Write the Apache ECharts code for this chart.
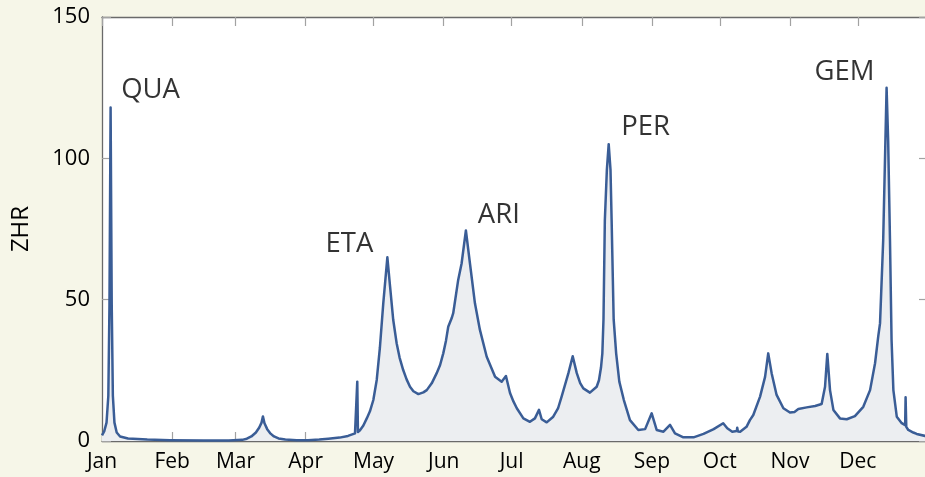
<!DOCTYPE html>
<html>
<head>
<meta charset="utf-8">
<script src="https://cdn.jsdelivr.net/npm/echarts@6/dist/echarts.min.js"></script>
<style>
  html, body { margin: 0; padding: 0; background: #f6f6e8; }
  #chart { width: 925px; height: 477px; }
</style>
</head>
<body>
<div id="chart"></div>
<script>
// Day of year (0 = 1 Jan) and zenithal hourly rate of the combined meteor showers
const days = [
  0, 1, 2, 2.8, 3.3, 3.8, 4.3, 4.8, 5.5, 6.5, 8, 11.5, 20, 30, 45, 56,
  62, 64, 66, 68, 69.5, 70.5, 71.1, 71.8, 73, 74.5, 76, 78, 81, 86, 91, 96,
  100, 105, 108.7, 111.8, 112.6, 112.8, 113.1, 114, 115.5, 117, 118.4, 119.9,
  121.4, 122.8, 124.3, 126.1, 127.3, 128.7, 130.2, 131.5, 133.1, 134.6, 136.1,
  137.6, 139.8, 142, 143.5, 145.7, 147.9, 149.4, 150.8, 152, 153, 154.5, 155.2,
  157.4, 158.9, 160.8, 162.6, 164.8, 167, 170, 173.7, 176.6, 178.5, 180.3,
  181.8, 183.3, 186.2, 189.1, 191.3, 193.1, 194.3, 196.5, 199.4, 201.5, 203.1,
  206.1, 208, 209.8, 211.3, 212.7, 215.6, 218.6, 219.6, 220.5, 221.1, 221.6,
  222.2, 223.1, 223.9, 224.7, 225.2, 226.1, 227.2, 228.6, 230.6, 233.3, 237,
  240, 242.9, 245.1, 248.1, 251, 253.2, 256.9, 261.4, 265.8, 270.3, 274.5,
  276.3, 278.5, 280.5, 280.7, 281, 282, 284.8, 286.3, 287.8, 290.8, 293, 294.4,
  295.9, 298.1, 301.1, 304, 306, 307.7, 311.4, 315.1, 318, 319.5, 320.5, 321.7,
  323.2, 326.1, 329.1, 332.7, 336.4, 339.4, 341.6, 343, 343.8, 345.2, 346.7,
  347.4, 348.2, 348.9, 349.7, 351.2, 353.4, 354.9, 355.1, 355.4, 356.3, 358.5,
  360, 363.7, 365
];
const zhr = [
  2, 3.5, 6.5, 16, 48, 118, 48, 16, 6.5, 3, 1.6, 0.9, 0.5, 0.3, 0.2, 0.2,
  0.4, 0.8, 1.6, 3, 4.8, 6.5, 8.7, 6.3, 4.2, 2.6, 1.6, 0.9, 0.5, 0.3, 0.3, 0.5,
  0.8, 1.2, 1.8, 2.7, 3, 21, 3.2, 3.8, 5.5, 8, 10.5, 14.5,
  21.6, 33, 48.8, 65, 54.6, 42.8, 34.6, 29.5, 25.1, 21.8, 19.2,
  17.6, 16.6, 17.2, 18, 20.4, 24, 26.9, 31, 35.5, 40.4, 43.4, 45.2,
  57, 62.8, 74.5, 62.8, 48.7, 39.3, 29.8, 22.7, 21, 23, 17,
  14, 11.6, 8, 6.8, 8, 11, 7.7, 6.6, 8.6, 11.5, 15.7,
  24, 30, 24, 20.5, 18.6, 17.1, 19.2, 21.5, 26, 31, 43,
  78, 96, 105, 96, 78, 43, 31, 21, 14.5, 7.4, 3.9,
  4.2, 9.8, 3.9, 3.3, 5.7, 2.7, 1.3, 1.3, 2.5, 4.2, 6.3,
  4.5, 3.3, 3.5, 4.7, 3.4, 3.3, 5, 7.4, 9.2, 15.7, 22.7, 31,
  24, 16.3, 11.6, 10.1, 10.3, 11.3, 11.9, 12.4, 13.1, 19.2, 30.8, 18,
  11, 8, 7.7, 8.8, 12.1, 18, 27.5, 36.9, 41.6, 71, 125,
  106, 71, 35.7, 18, 8.6, 6.3, 5.6, 15.5, 5, 3.9, 3,
  2.5, 1.8, 1.6
];

// Month starts (day of year) and their tick labels
const monthStarts = [0, 31, 59, 90, 120, 151, 181, 212, 243, 273, 304, 334];
const monthLabels = ['Jan', 'Feb', 'Mar', 'Apr', 'May', 'Jun', 'Jul', 'Aug', 'Sep', 'Oct', 'Nov', 'Dec'];
const zhrTicks = [0, 50, 100, 150];

// Named showers and the day of their maximum
const showerNames = ['QUA', 'ETA', 'ARI', 'PER', 'GEM'];
const showerPeakDays = [3.8, 126.1, 160.8, 223.9, 346.7];

// Label placement relative to each maximum (pixels)
const labelOffsets = [[40, -17], [-38, -13], [33, -15], [37, -17], [-42, -15]];

const FONT = 'Open Sans';
const TEXT = '#000000';
const AXIS_LINE = '#6a6a6a';
const TICK = '#a2a2a2';

const lineData = days.map((d, i) => [d, zhr[i]]);
const showerData = showerNames.map((name, i) => {
  const idx = days.indexOf(showerPeakDays[i]);
  return {
    value: [days[idx], zhr[idx]],
    name: name,
    label: { offset: labelOffsets[i] }
  };
});

const tickCommon = {
  show: true, inside: true, length: 9,
  lineStyle: { color: TICK, width: 1.2 }
};

const chart = echarts.init(document.getElementById('chart'), null, { renderer: 'canvas' });
chart.setOption({
  backgroundColor: '#f6f6e8',
  animation: false,
  grid: {
    left: 102, top: 17, right: -3, bottom: 36,
    show: true, backgroundColor: '#ffffff', borderWidth: 0,
    outerBoundsMode: 'none'
  },
  xAxis: [
    {
      type: 'value', min: 0, max: 365, position: 'bottom',
      axisLine: { show: true, onZero: false, lineStyle: { color: AXIS_LINE, width: 1.3 } },
      axisTick: Object.assign({ customValues: monthStarts }, tickCommon),
      axisLabel: {
        customValues: monthStarts,
        formatter: v => monthLabels[monthStarts.indexOf(v)] || '',
        fontFamily: FONT, fontSize: 21, color: TEXT, margin: 11, hideOverlap: false
      },
      splitLine: { show: false }
    },
    {
      type: 'value', min: 0, max: 365, position: 'top',
      axisLine: { show: true, onZero: false, lineStyle: { color: AXIS_LINE, width: 1.3 } },
      axisTick: Object.assign({ customValues: monthStarts }, tickCommon),
      axisLabel: { show: false },
      splitLine: { show: false }
    }
  ],
  yAxis: [
    {
      type: 'value', min: 0, max: 150, interval: 50, position: 'left',
      name: 'ZHR', nameLocation: 'middle', nameGap: 69,
      nameTextStyle: { fontFamily: FONT, fontSize: 24, color: TEXT },
      axisLine: { show: true, onZero: false, lineStyle: { color: AXIS_LINE, width: 1.3 } },
      axisTick: Object.assign({ customValues: zhrTicks }, tickCommon),
      axisLabel: { fontFamily: FONT, fontSize: 22, color: TEXT, margin: 12, hideOverlap: false },
      splitLine: { show: false }
    },
    {
      type: 'value', min: 0, max: 150, interval: 50, position: 'right',
      axisLine: { show: true, onZero: false, lineStyle: { color: AXIS_LINE, width: 1.3 } },
      axisTick: Object.assign({ customValues: zhrTicks }, tickCommon),
      axisLabel: { show: false },
      splitLine: { show: false }
    }
  ],
  series: [
    {
      name: 'ZHR',
      type: 'line',
      data: lineData,
      showSymbol: false,
      smooth: false,
      lineStyle: { color: '#3a5d96', width: 2.5, join: 'round' },
      areaStyle: { color: '#eceef1', opacity: 1 },
      z: 2
    },
    {
      name: 'showers',
      type: 'scatter',
      data: showerData,
      symbolSize: 1,
      itemStyle: { color: 'rgba(0,0,0,0)' },
      label: {
        show: true,
        position: 'inside',
        formatter: p => p.name,
        fontFamily: FONT, fontSize: 27.5, color: TEXT
      },
      silent: true,
      z: 3
    }
  ]
});
</script>
</body>
</html>
